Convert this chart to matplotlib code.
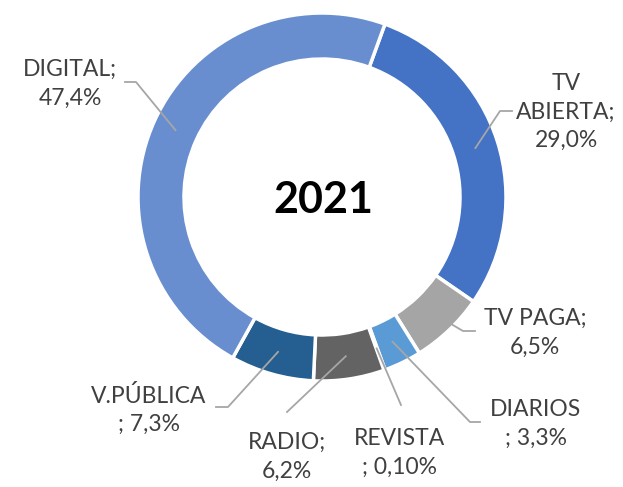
import numpy as np
import matplotlib.pyplot as plt

# data, in the order the ring is drawn (clockwise from the top)
categories = ["TV\nABIERTA", "TV PAGA", "DIARIOS\n", "REVISTA\n", "RADIO", "V.PÚBLICA\n", "DIGITAL"]
shares = [29.0, 6.5, 3.3, 0.10, 6.2, 7.3, 47.4]
share_text = ["29,0%", "6,5%", "3,3%", "0,10%", "6,2%", "7,3%", "47,4%"]
year = "2021"

colors = ["#4472C4", "#A5A5A5", "#5B9BD5", "#FFC000", "#636363", "#255E91", "#698ED0"]

# label layout in pixels (x, y from top): text centre, line end, elbow
label_pos = [(566, 112), (535, 333), (536, 424), (400, 453), (287, 457), (149, 410), (70, 84)]
line_end = [(512, 111), (475, 331), (480, 422), (401, 405), (287, 412), (216, 407), (125, 82)]
line_knee = [(500, 111), (463, 331), (470, 422), None, None, (228, 407), (136, 82)]

W, H = 623, 487
cx, cy = 322, 197
r_out, r_in = 184, 138

plt.rcParams['font.family'] = ['Lato', 'DejaVu Sans']

fig = plt.figure(figsize=(W / 100, H / 100), dpi=100)
ax = fig.add_axes([0, 0, 1, 1])

wedges, _ = ax.pie(shares, colors=colors, startangle=70, counterclock=False,
                   center=(cx, H - cy), radius=r_out,
                   wedgeprops=dict(width=r_out - r_in, edgecolor='white', linewidth=2.5))
ax.set_xlim(0, W)
ax.set_ylim(0, H)
ax.set_aspect('equal')
ax.axis('off')

ax.text(cx + 1, H - 200, year, ha='center', va='center', fontsize=31,
        fontweight='bold', color='black')

r_mid = (r_out + r_in) / 2
for i, w in enumerate(wedges):
    mid = np.deg2rad((w.theta1 + w.theta2) / 2)
    ax_pt = (cx + r_mid * np.cos(mid), H - cy + r_mid * np.sin(mid))
    pts = [line_end[i]]
    if line_knee[i] is not None:
        pts.append(line_knee[i])
    xs = [p[0] for p in pts] + [ax_pt[0]]
    ys = [H - p[1] for p in pts] + [ax_pt[1]]
    ax.plot(xs, ys, color='#A6A6A6', lw=1.3, zorder=5)

    name = categories[i]
    if name.endswith("\n"):
        txt = name + "; " + share_text[i]
    else:
        txt = name + ";\n" + share_text[i]
    x, y = label_pos[i]
    ax.text(x, H - y, txt, ha='center', va='center', fontsize=16.5,
            color='#404040', linespacing=1.45)

fig.savefig("out.png", dpi=100)
